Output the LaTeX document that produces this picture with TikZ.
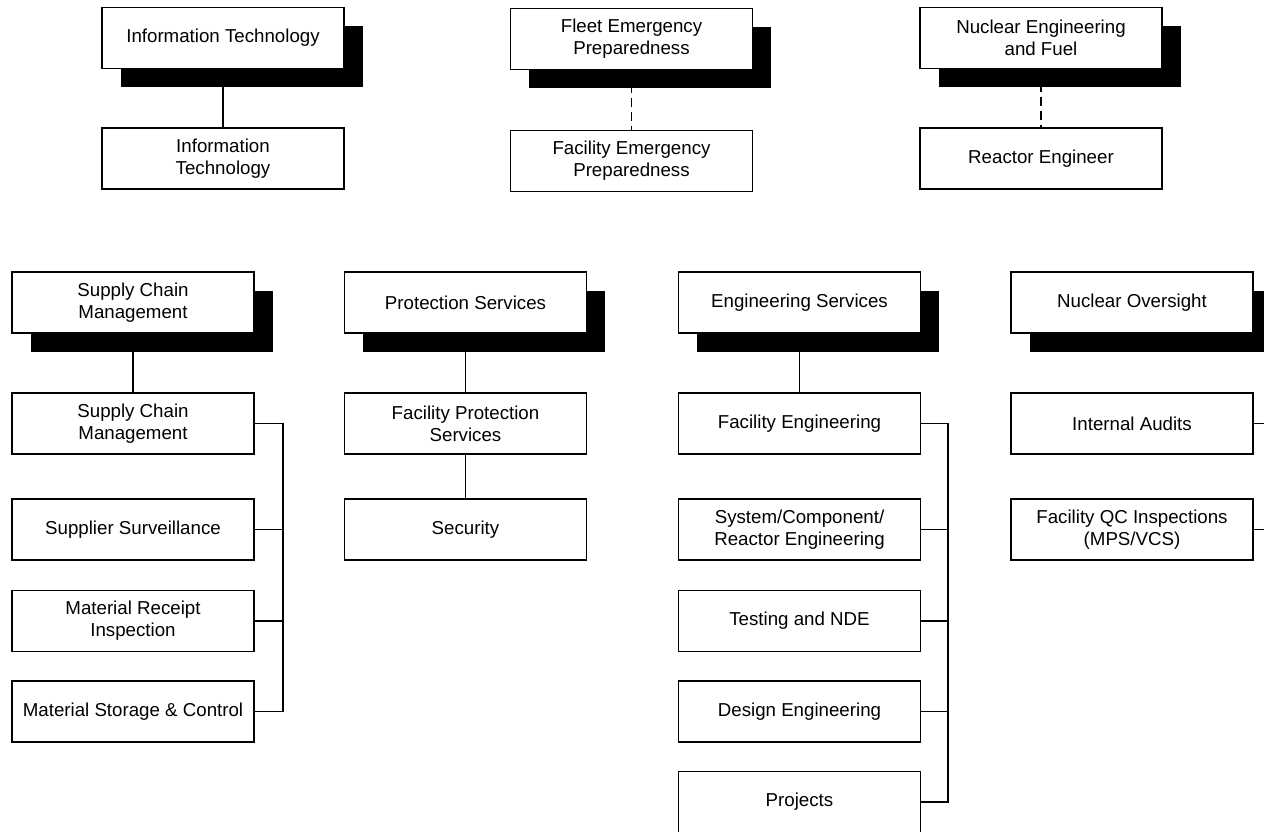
\documentclass[tikz,border=0pt]{standalone}
\usepackage{fontspec}
\setmainfont{Liberation Sans}
\usetikzlibrary{shadows}

\tikzset{
  unit/.style={draw, fill=white, rectangle, line width=1.1pt,
    minimum width=242pt, minimum height=61pt, inner sep=2pt,
    align=center, font=\fontsize{18.7}{22}\selectfont},
  head/.style={unit, drop shadow={shadow xshift=18.5pt, shadow yshift=-19pt,
    fill=black, opacity=1}},
  link/.style={line width=1.1pt},
  dashlink/.style={line width=1.1pt, dash pattern=on 9pt off 5pt},
}

\begin{document}
\begin{tikzpicture}[x=1pt, y=-1pt]
\clip (0,0) rectangle (1264,832);

% top row: corporate functions and their facility counterparts
\node[head] (it)    at (223,38)    {Information Technology};
\node[unit] (itf)   at (223,158.5) {Information\\Technology};
\node[head] (fep)   at (631.5,39)  {Fleet Emergency\\Preparedness};
\node[unit] (fepf)  at (631.5,161) {Facility Emergency\\Preparedness};
\node[head] (nef)   at (1041,38)   {Nuclear Engineering\\and Fuel};
\node[unit] (re)    at (1041,158.5){Reactor Engineer};

\draw[link] (it.south) -- (itf.north);
\draw[dashlink] (fep.south) -- (fepf.north);
\draw[dashlink] (nef.south) -- (re.north);

% second row heads
\node[head] (scm)   at (133,302.5)  {Supply Chain\\Management};
\node[head] (ps)    at (465.5,302.5){Protection Services};
\node[head] (es)    at (799.5,302.5){Engineering Services};
\node[head] (no)    at (1132,302.5) {Nuclear Oversight};

% supply chain units
\node[unit] (scmf)  at (133,423.5) {Supply Chain\\Management};
\node[unit] (ss)    at (133,529.5) {Supplier Surveillance};
\node[unit] (mri)   at (133,621)   {Material Receipt\\Inspection};
\node[unit] (msc)   at (133,711.5) {Material Storage \& Control};

% protection units
\node[unit] (fps)   at (465.5,423.5) {Facility Protection\\Services};
\node[unit] (sec)   at (465.5,529.5) {Security};

% engineering units
\node[unit] (fe)    at (799.5,423.5) {Facility Engineering};
\node[unit] (scr)   at (799.5,529.5) {System/Component/\\Reactor Engineering};
\node[unit] (tnde)  at (799.5,621)   {Testing and NDE};
\node[unit] (de)    at (799.5,711.5) {Design Engineering};
\node[unit] (proj)  at (799.5,802)   {Projects};

% oversight units
\node[unit] (ia)    at (1132,423.5) {Internal Audits};
\node[unit] (qc)    at (1132,529.5) {Facility QC Inspections\\(MPS/VCS)};

% vertical links
\draw[link] (scm.south) -- (scmf.north);
\draw[link] (ps.south) -- (fps.north);
\draw[link] (fps.south) -- (sec.north);
\draw[link] (es.south) -- (fe.north);

% bracket rails
\coordinate (scmrail) at (283,0);
\coordinate (esrail)  at (948,0);
\coordinate (norail)  at (1282,0);

\draw[link] (scmf.east) -| (scmrail |- msc.east) -- (msc.east);
\foreach \n in {ss,mri} \draw[link] (\n.east) -- (scmrail |- \n.east);

\draw[link] (fe.east) -| (esrail |- proj.east) -- (proj.east);
\foreach \n in {scr,tnde,de} \draw[link] (\n.east) -- (esrail |- \n.east);

\draw[link] (ia.east) -| (norail |- qc.east) -- (qc.east);
\end{tikzpicture}
\end{document}
